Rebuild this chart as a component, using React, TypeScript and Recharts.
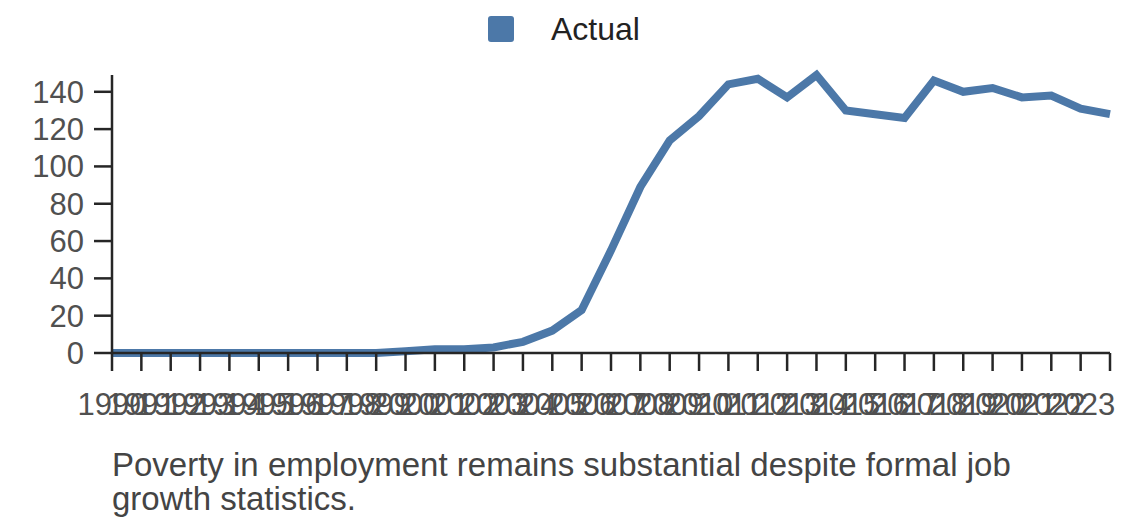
import React from 'react';
import { LineChart, Line, XAxis, YAxis, Legend } from 'recharts';

const years = [
  '1990', '1991', '1992', '1993', '1994', '1995', '1996', '1997', '1998', '1999',
  '2000', '2001', '2002', '2003', '2004', '2005', '2006', '2007', '2008', '2009',
  '2010', '2011', '2012', '2013', '2014', '2015', '2016', '2017', '2018', '2019',
  '2020', '2021', '2022', '2023', '2024',
];
const actual = [
  0, 0, 0, 0, 0, 0, 0, 0, 0, 0,
  1, 2, 2, 3, 6, 12, 23, 55, 89, 114,
  127, 144, 147, 137, 149, 130, 128, 126, 146, 140,
  142, 137, 138, 131, 128,
];
const yTicks = [0, 20, 40, 60, 80, 100, 120, 140];
const caption = 'Poverty in employment remains substantial despite formal job growth statistics.';

const data = years.map((year, i) => ({ year, actual: actual[i] }));

const CHART_W = 1140;
const CHART_H = 448;
const FONT = '"Liberation Sans", Arial, sans-serif';
const BLUE = '#4c78a8';
const AXIS = '#262626';
const LABEL = '#505050';
const TICK_FONT = 31;

// labels that would run past the right edge are dropped
function XTick(props: any) {
  const { x, y, payload } = props;
  const label = String(payload.value);
  const half = (label.length * 0.556 * TICK_FONT) / 2;
  if (x + half > CHART_W) return <g />;
  return (
    <text x={x} y={y} dy="0.71em" textAnchor="middle" fill={LABEL} fontSize={TICK_FONT} fontFamily={FONT}>
      {label}
    </text>
  );
}

function LegendBox() {
  return (
    <div style={{ position: 'relative', height: 75, fontFamily: FONT }}>
      <div style={{ position: 'absolute', left: 488, top: 16, width: 26, height: 26, background: BLUE, borderRadius: 3 }} />
      <div style={{ position: 'absolute', left: 551, top: 13, fontSize: 32, lineHeight: '32px', color: '#222' }}>
        Actual
      </div>
    </div>
  );
}

export default function App() {
  return (
    <div style={{ position: 'absolute', left: 0, top: 0, width: CHART_W, height: 528, background: '#fff' }}>
      <LineChart width={CHART_W} height={CHART_H} data={data} margin={{ top: 0, right: 30, bottom: 0, left: 0 }}>
        <Legend verticalAlign="top" content={() => <LegendBox />} />
        <XAxis
          dataKey="year"
          interval={0}
          height={95}
          tickSize={18}
          tickMargin={22}
          axisLine={{ stroke: AXIS, strokeWidth: 2.5 }}
          tickLine={{ stroke: AXIS, strokeWidth: 2.5 }}
          tick={<XTick />}
        />
        <YAxis
          width={112}
          domain={[0, 'dataMax']}
          ticks={yTicks}
          interval={0}
          tickSize={18}
          tickMargin={10}
          axisLine={{ stroke: AXIS, strokeWidth: 2.5 }}
          tickLine={{ stroke: AXIS, strokeWidth: 2.5 }}
          tick={{ fill: LABEL, fontSize: TICK_FONT, fontFamily: FONT }}
        />
        <Line
          type="linear"
          dataKey="actual"
          stroke={BLUE}
          strokeWidth={8}
          dot={false}
          activeDot={false}
          isAnimationActive={false}
        />
      </LineChart>
      <div
        style={{
          position: 'absolute',
          left: 112,
          top: 448,
          width: 960,
          fontFamily: FONT,
          fontSize: 33,
          lineHeight: '34px',
          color: '#444',
        }}
      >
        {caption}
      </div>
    </div>
  );
}
